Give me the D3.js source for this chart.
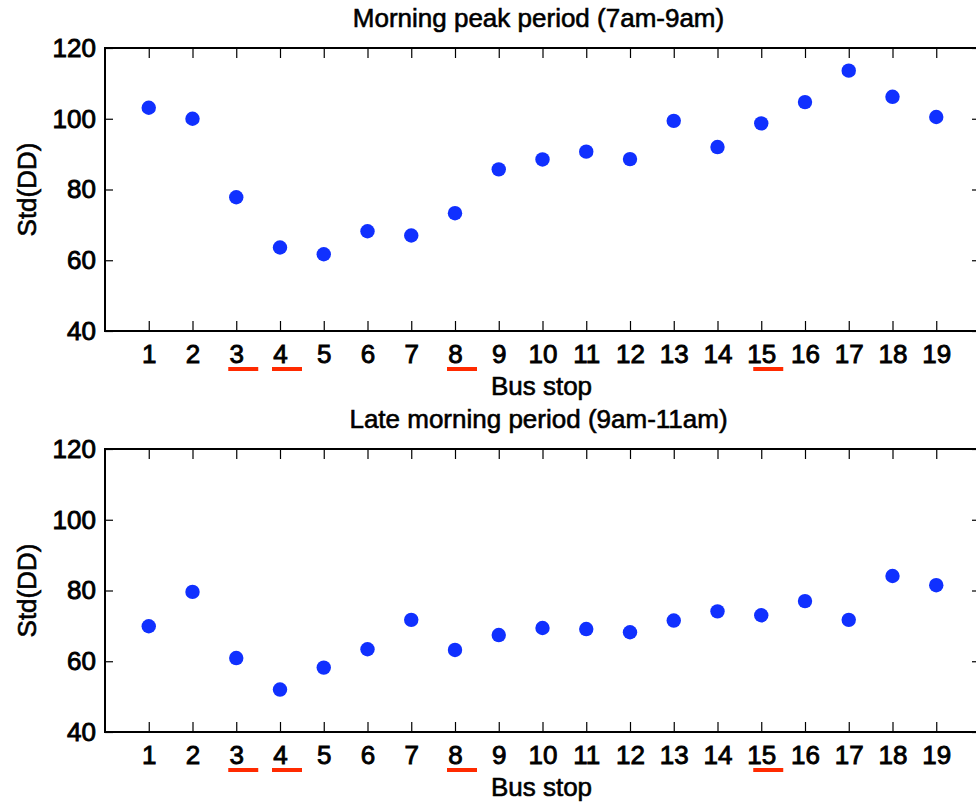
<!DOCTYPE html>
<html>
<head>
<meta charset="utf-8">
<script src="https://cdn.jsdelivr.net/npm/d3@7"></script>
<style>
  body { margin: 0; background: #fff; }
  svg { display: block; font-family: "Liberation Sans", Arial, sans-serif; }
</style>
</head>
<body>
<svg width="976" height="803"></svg>
<script>
// bus stops on the x axis
const stops = d3.range(1, 20);
// stops marked with a red underline
const markedStops = [3, 4, 8, 15];
const yTicks = [40, 60, 80, 100, 120];

const titles = ['Morning peak period (7am-9am)', 'Late morning period (9am-11am)'];

// Std(DD) per stop
const morningPeak = [103.1, 100.0, 77.8, 63.6, 61.7, 68.2, 67.0, 73.3, 85.7, 88.5,
  90.7, 88.6, 99.4, 92.0, 98.7, 104.7, 113.6, 106.2, 100.5];
const lateMorning = [69.9, 79.6, 60.9, 52.0, 58.2, 63.4, 71.7, 63.2, 67.4, 69.4,
  69.1, 68.2, 71.5, 74.1, 73.0, 77.0, 71.7, 84.1, 81.5];

const panels = [
  {title: titles[0], values: morningPeak, top: 48, bottom: 331},
  {title: titles[1], values: lateMorning, top: 449, bottom: 732}
];

const svg = d3.select('svg');
const left = 105;
const right = 980;
const fontSize = 26;

const x = d3.scaleLinear()
  .domain([0, 20])
  .range([left, right]);

// the original text is a bit heavier than plain Liberation Sans
const heavy = (sel, w) => sel
  .attr('fill', '#000')
  .attr('stroke', '#000')
  .attr('stroke-width', w);

panels.forEach(p => {
  const y = d3.scaleLinear()
    .domain([40, 120])
    .range([p.bottom, p.top]);

  const g = svg.append('g');

  // inward ticks on all four sides
  const tickStyle = sel => {
    sel.select('.domain').remove();
    sel.selectAll('.tick line').attr('stroke', '#000').attr('stroke-width', 1.2);
  };

  g.append('g')
    .attr('transform', `translate(0,${p.bottom})`)
    .call(d3.axisBottom(x).tickValues(stops).tickSizeInner(-10).tickSizeOuter(0).tickPadding(14))
    .call(tickStyle)
    .call(a => a.selectAll('text')
      .attr('font-size', fontSize)
      .attr('font-family', '"Liberation Sans", Arial, sans-serif')
      .call(heavy, 0.9));

  g.append('g')
    .attr('transform', `translate(0,${p.top})`)
    .call(d3.axisTop(x).tickValues(stops).tickSizeInner(-10).tickSizeOuter(0).tickFormat(''))
    .call(tickStyle);

  g.append('g')
    .attr('transform', `translate(${left},0)`)
    .call(d3.axisLeft(y).tickValues(yTicks).tickSizeInner(-8).tickSizeOuter(0).tickPadding(9))
    .call(tickStyle)
    .call(a => a.selectAll('text')
      .attr('font-size', fontSize)
      .attr('font-family', '"Liberation Sans", Arial, sans-serif')
      .call(heavy, 0.9));

  g.append('g')
    .attr('transform', `translate(${right},0)`)
    .call(d3.axisRight(y).tickValues(yTicks).tickSizeInner(-8).tickSizeOuter(0).tickFormat(''))
    .call(tickStyle);

  // frame
  g.append('rect')
    .attr('x', left)
    .attr('y', p.top)
    .attr('width', right - left)
    .attr('height', p.bottom - p.top)
    .attr('fill', 'none')
    .attr('stroke', '#000')
    .attr('stroke-width', 2);

  // red underlines below some stop labels
  g.selectAll('.mark')
    .data(markedStops)
    .enter().append('line')
      .attr('x1', d => x(d) - 8)
      .attr('x2', d => x(d) + 22)
      .attr('y1', p.bottom + 38)
      .attr('y2', p.bottom + 38)
      .attr('stroke', '#ff2a00')
      .attr('stroke-width', 4);

  g.selectAll('.dot')
    .data(p.values)
    .enter().append('circle')
      .attr('cx', (d, i) => x(stops[i]))
      .attr('cy', d => y(d))
      .attr('r', 7.2)
      .attr('fill', '#1030ff');

  g.append('text')
    .attr('x', (left + right) / 2 - 4)
    .attr('y', p.top - 21)
    .attr('text-anchor', 'middle')
    .attr('font-size', fontSize)
    .call(heavy, 0.6)
    .text(p.title);

  g.append('text')
    .attr('x', (left + right) / 2 - 1)
    .attr('y', p.bottom + 64)
    .attr('text-anchor', 'middle')
    .attr('font-size', fontSize)
    .call(heavy, 0.6)
    .text('Bus stop');

  g.append('text')
    .attr('transform', `translate(36,${(p.top + p.bottom) / 2}) rotate(-90)`)
    .attr('text-anchor', 'middle')
    .attr('font-size', fontSize)
    .call(heavy, 0.6)
    .text('Std(DD)');
});
</script>
</body>
</html>
